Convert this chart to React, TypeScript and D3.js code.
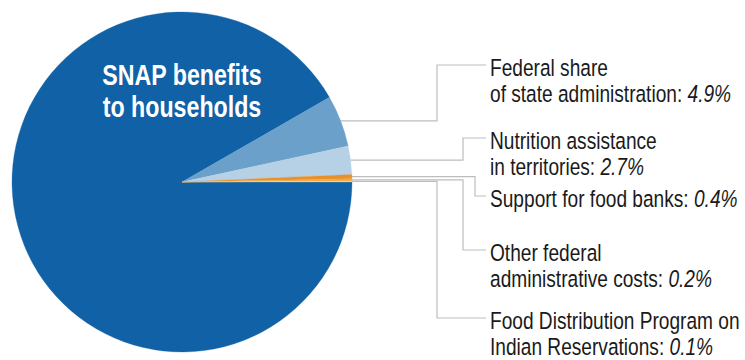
import React from "react";
import * as d3 from "d3";

const categories = [
  "SNAP benefits to households",
  "Federal share of state administration",
  "Nutrition assistance in territories",
  "Support for food banks",
  "Other federal administrative costs",
  "Food Distribution Program on Indian Reservations",
];
const values = [91.7, 4.9, 2.7, 0.4, 0.2, 0.1];
const colors = ["#1061a5", "#6aa0c9", "#b6d1e5", "#e8912c", "#f3a93e", "#fbd27a"];
const labelLines: string[][] = [
  ["SNAP benefits", "to households"],
  ["Federal share", "of state administration: "],
  ["Nutrition assistance", "in territories: "],
  ["Support for food banks: "],
  ["Other federal", "administrative costs: "],
  ["Food Distribution Program on", "Indian Reservations: "],
];
const valueLabels = ["", "4.9%", "2.7%", "0.4%", "0.2%", "0.1%"];

// layout
const W = 745, H = 360;
const cx = 182, cy = 182, R = 170;
const elbowX = [0, 437, 463, 475, 463, 437];
const labelY = [0, 65, 138, 196, 250, 318];
const textX = 490;
const lineGap = 26.5;
const FONT = "'Liberation Sans', Arial, sans-serif";
const SX = 0.78;

export default function App() {
  const pie = d3
    .pie<number>()
    .sort(null)
    .startAngle(Math.PI / 2)
    .endAngle(Math.PI / 2 + 2 * Math.PI);
  const arcs = pie(values);
  const arcGen = d3.arc<d3.PieArcDatum<number>>().innerRadius(0).outerRadius(R);

  return (
    <svg width={W} height={H} style={{ position: "absolute", left: 0, top: 0, background: "#fff" }}>
      <g>
        {arcs.map((a, i) => {
          if (i === 0) return null;
          const mid = (a.startAngle + a.endAngle) / 2;
          const y = cy - R * Math.cos(mid);
          const x = cx + R * Math.sin(mid);
          const ly = labelY[i];
          const ex = elbowX[i];
          return (
            <path
              key={"l" + i}
              d={`M${x},${y}H${ex}V${ly}H${textX - 4}`}
              fill="none"
              stroke="#bdbdbd"
              strokeWidth={1.2}
            />
          );
        })}
      </g>
      <g transform={`translate(${cx},${cy})`}>
        {arcs.map((a, i) => (
          <path key={i} d={arcGen(a) || ""} fill={colors[i]} stroke={colors[i]} strokeWidth={0.3} />
        ))}
      </g>
      <g transform={`translate(${cx},0) scale(0.8,1)`}>
        <text textAnchor="middle" fill="#fff" fontFamily={FONT} fontWeight="bold" fontSize={29}>
          <tspan x={0} y={85}>{labelLines[0][0]}</tspan>
          <tspan x={0} y={117}>{labelLines[0][1]}</tspan>
        </text>
      </g>
      {labelLines.map((lines, i) => {
        if (i === 0) return null;
        const y0 = labelY[i] + 11;
        return (
          <g key={"t" + i} transform={`translate(${textX},0) scale(${SX},1)`}>
            <text fontFamily={FONT} fontSize={24.5} fill="#1a1a1a">
              {lines.map((ln, j) => (
                <tspan key={j} x={0} y={y0 + j * lineGap}>
                  {ln}
                  {j === lines.length - 1 ? <tspan fontStyle="italic">{valueLabels[i]}</tspan> : null}
                </tspan>
              ))}
            </text>
          </g>
        );
      })}
    </svg>
  );
}
